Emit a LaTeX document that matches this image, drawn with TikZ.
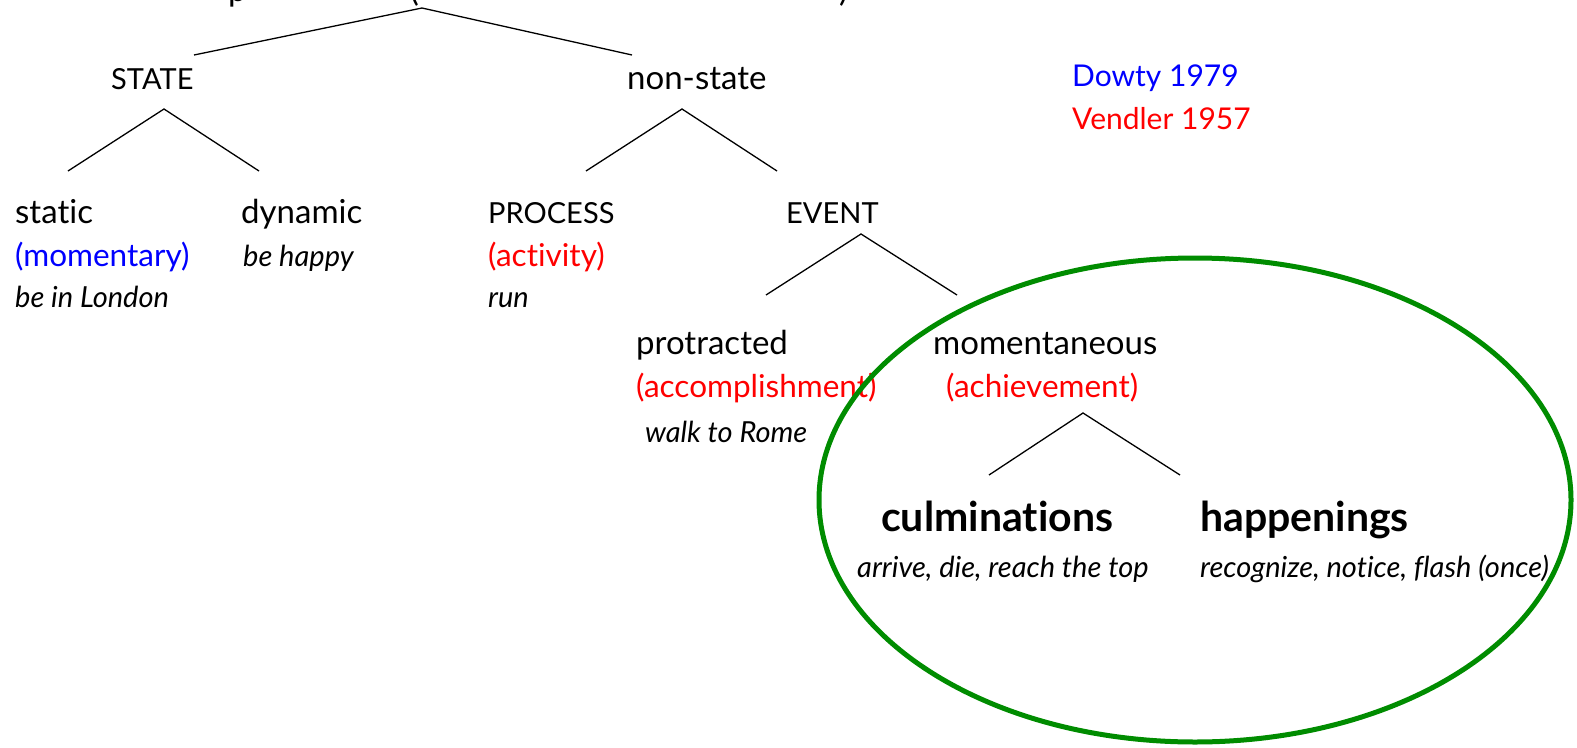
\documentclass[tikz,border=0pt]{standalone}
\usepackage{fontspec}
\setmainfont{Lato}[Ligatures=NoCommon]
\definecolor{dgreen}{RGB}{0,140,0}
\definecolor{dblue}{RGB}{0,0,255}
\definecolor{dred}{RGB}{255,0,0}
\tikzset{
  lbl/.style={anchor=base west, inner sep=0pt, font=\fontsize{33}{37}\selectfont},
  redl/.style={lbl, text=dred, font=\fontsize{31.5}{36}\selectfont},
  capl/.style={lbl, font=\fontsize{29}{34}\selectfont},
  src/.style={lbl, font=\fontsize{30}{34}\selectfont},
  ex/.style={lbl, font=\fontsize{29}{34}\selectfont\itshape},
  hd/.style={lbl, font=\fontsize{41}{46}\selectfont\bfseries},
  branch/.style={line width=1.3pt, black},
  ring/.style={draw=dgreen, line width=5pt},
}
\begin{document}
\begin{tikzpicture}[x=1pt,y=-1pt]
\useasboundingbox (0,0) rectangle (1577,747);
\clip (0,0) rectangle (1577,747);
% clipped title fragments (the title runs off the top edge)
\node[lbl] (t1) at (228,1) {p};
\node[lbl] (t2) at (410,1) {(};
\node[lbl] (t3) at (839,1) {)};
% tree coordinates
\coordinate (r0) at (422,8);
\coordinate (r1) at (194,55);
\coordinate (r2) at (632,55);
\coordinate (s0) at (164,109);
\coordinate (s1) at (68,171);
\coordinate (s2) at (259,171);
\coordinate (n0) at (682,109);
\coordinate (n1) at (586,171);
\coordinate (n2) at (777,171);
\coordinate (e0) at (861,234);
\coordinate (e1) at (766,295);
\coordinate (e2) at (957,295);
\coordinate (a0) at (1083,413);
\coordinate (a1) at (989,475);
\coordinate (a2) at (1180,475);
\draw[branch] (r1) -- (r0) -- (r2);
\draw[branch] (s1) -- (s0) -- (s2);
\draw[branch] (n1) -- (n0) -- (n2);
\draw[branch] (e1) -- (e0) -- (e2);
\draw[branch] (a1) -- (a0) -- (a2);
% labels
\node[capl] (state) at (111,89) {STATE};
\node[lbl] (nonstate) at (627,89) {non-state};
\node[src, text=dblue] (dowty) at (1072,86) {Dowty 1979};
\node[src, text=dred] (vendler) at (1072,129) {Vendler 1957};
\node[lbl] (static) at (15,223) {static};
\node[lbl] (dynamic) at (241,223) {dynamic};
\node[capl] (process) at (488,223) {PROCESS};
\node[capl] (event) at (786,223) {EVENT};
\node[lbl, text=dblue, font=\fontsize{31.5}{36}\selectfont] (momentary) at (15,266) {(momentary)};
\node[ex] (behappy) at (243,266) {be happy};
\node[redl] (activity) at (488,266) {(activity)};
\node[ex] (london) at (15,307) {be in London};
\node[ex] (run) at (488,307) {run};
\node[lbl] (protracted) at (636,354) {protracted};
\node[lbl] (momentaneous) at (933,354) {momentaneous};
\node[redl] (accomp) at (636,397) {(accomplishment)};
\node[redl] (achieve) at (946,397) {(achievement)};
\node[ex] (rome) at (645,442) {walk to Rome};
\node[hd] (culm) at (881,531) {culminations};
\node[hd] (happ) at (1200,531) {happenings};
\node[ex] (culmex) at (857,577) {arrive, die, reach the top};
\node[ex] (happex) at (1200,577) {recognize, notice, flash (once)};
% ring
\draw[ring] (1195,500) ellipse [x radius=376, y radius=242];
\end{tikzpicture}
\end{document}
